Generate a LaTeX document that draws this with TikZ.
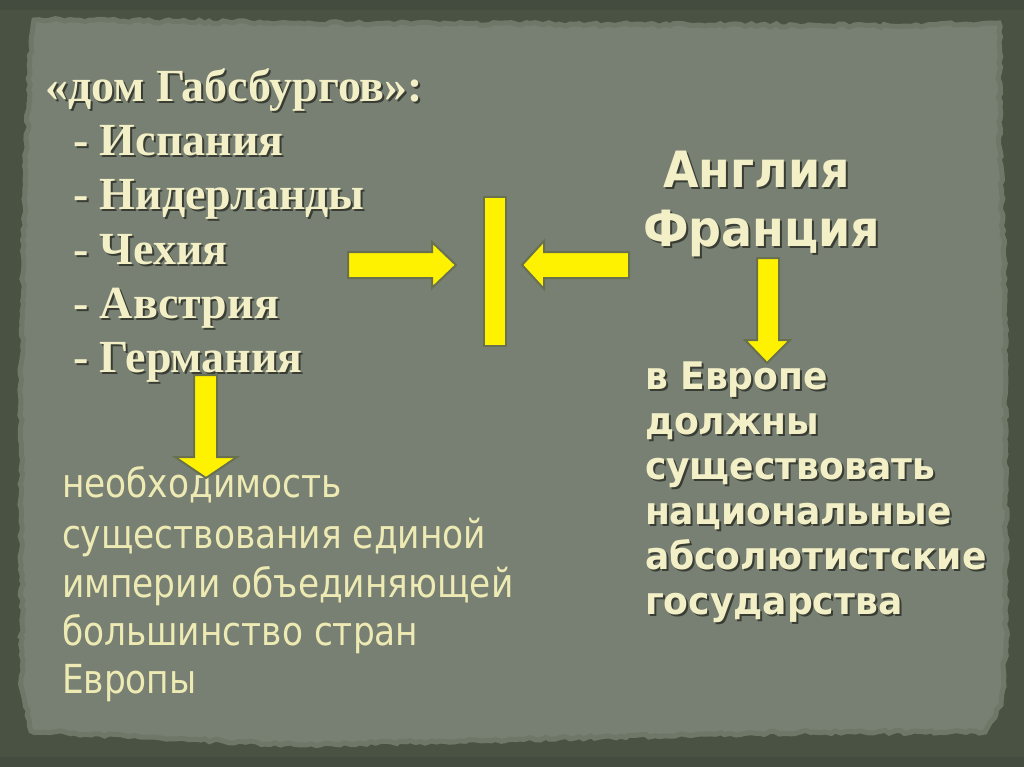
\documentclass[tikz,border=0pt]{standalone}
\usepackage{fontspec}
\setmainfont{Liberation Serif}
\newfontfamily\hfont{Liberation Serif}
\newfontfamily\tbfont{DejaVu Sans}[FakeStretch=0.92]
\newfontfamily\tbbfont{DejaVu Sans}[FakeStretch=0.95]
\newfontfamily\trfont{DejaVu Sans}[FakeStretch=0.86]
\usetikzlibrary{decorations.pathmorphing}
\definecolor{bord}{HTML}{4A5244}
\definecolor{bordd}{HTML}{3F473B}
\definecolor{paper}{HTML}{778072}
\definecolor{paperedge}{HTML}{6E7768}
\definecolor{cream}{HTML}{F3EFC6}
\definecolor{creamb}{HTML}{EEEAB4}
\definecolor{shad}{HTML}{2A2D25}
\definecolor{arrowline}{HTML}{687050}
\tikzset{
  txt/.style={inner sep=0pt, outer sep=0pt, anchor=base west},
  maintxt/.style={txt, text=cream},
  shadowtxt/.style={txt, text=shad, opacity=0.8},
  bodytxt/.style={txt, text=creamb},
  blockarrow/.style={fill=yellow, draw=arrowline, line width=2pt, line join=miter},
}
\newcommand\shline[5]{%
  \node[shadowtxt] at (#2+2,#3+2) {#4#5};
  \node[maintxt] (#1) at (#2,#3) {#4#5};}
\begin{document}
\begin{tikzpicture}[x=1pt,y=-1pt]
\useasboundingbox (0,0) rectangle (1024,767);
% background border
\fill[bord] (0,0) rectangle (1024,767);
\fill[bordd, opacity=0.5] (0,0) rectangle (1024,10);
\fill[bordd, opacity=0.5] (0,757) rectangle (1024,767);
% paper
\pgfmathsetseed{7}
\path[fill=paper, draw=paperedge, line width=5pt, decorate, decoration={random steps, segment length=5pt, amplitude=1.6pt}]
  (34,20) -- (300,23) -- (700,25) -- (905,26) -- (999,23) -- (1000,150) -- (1005,300)
  -- (1006,640) -- (1001,705) -- (985,732) -- (800,732) -- (300,745) -- (150,737)
  -- (31,731) -- (22,690) -- (21,400) -- (25,180) -- (30,60) -- cycle;

% left heading
\shline{h0}{45}{102}{\hfont\bfseries\fontsize{46}{52}\selectfont}{«дом Габсбургов»:}
\shline{h1}{73}{156}{\hfont\bfseries\fontsize{46}{52}\selectfont}{- Испания}
\shline{h2}{73}{210}{\hfont\bfseries\fontsize{46}{52}\selectfont}{- Нидерланды}
\shline{h3}{73}{264}{\hfont\bfseries\fontsize{46}{52}\selectfont}{- Чехия}
\shline{h4}{73}{318}{\hfont\bfseries\fontsize{46}{52}\selectfont}{- Австрия}
\shline{h5}{73}{372}{\hfont\bfseries\fontsize{46}{52}\selectfont}{- Германия}

% right heading
\shline{r1}{663}{188}{\tbfont\bfseries\fontsize{50}{56}\selectfont}{Англия}
\shline{r2}{643}{246}{\tbfont\bfseries\fontsize{50}{56}\selectfont}{Франция}

% right body
\shline{b1}{645}{389}{\tbbfont\bfseries\fontsize{38}{44}\selectfont}{в Европе}
\shline{b2}{645}{434}{\tbbfont\bfseries\fontsize{38}{44}\selectfont}{должны}
\shline{b3}{645}{479}{\tbbfont\bfseries\fontsize{38}{44}\selectfont}{существовать}
\shline{b4}{645}{524}{\tbbfont\bfseries\fontsize{38}{44}\selectfont}{национальные}
\shline{b5}{645}{569}{\tbbfont\bfseries\fontsize{38}{44}\selectfont}{абсолютистские}
\shline{b6}{645}{614}{\tbbfont\bfseries\fontsize{38}{44}\selectfont}{государства}

% left body
\node[bodytxt] (l1) at (62,497) {\trfont\fontsize{40}{48}\selectfont необходимость};
\node[bodytxt] (l2) at (62,548) {\trfont\fontsize{40}{48}\selectfont существования единой};
\node[bodytxt] (l3) at (62,597) {\trfont\fontsize{40}{48}\selectfont империи объединяющей};
\node[bodytxt] (l4) at (62,645) {\trfont\fontsize{40}{48}\selectfont большинство стран};
\node[bodytxt] (l5) at (62,693) {\trfont\fontsize{40}{48}\selectfont Европы};

% arrows
\draw[blockarrow] (348,252) -- (432,252) -- (432,242) -- (456,265) -- (432,288) -- (432,278) -- (348,278) -- cycle;
\draw[blockarrow] (484,197) rectangle (506,346);
\draw[blockarrow] (629,252) -- (544,252) -- (544,241) -- (522,265) -- (544,289) -- (544,278) -- (629,278) -- cycle;
\draw[blockarrow] (757,258) -- (779,258) -- (779,340) -- (790,340) -- (767,363) -- (745,340) -- (757,340) -- cycle;
\draw[blockarrow] (194,375) -- (217,375) -- (217,457) -- (237,457) -- (206,478) -- (175,457) -- (194,457) -- cycle;
\end{tikzpicture}
\end{document}
